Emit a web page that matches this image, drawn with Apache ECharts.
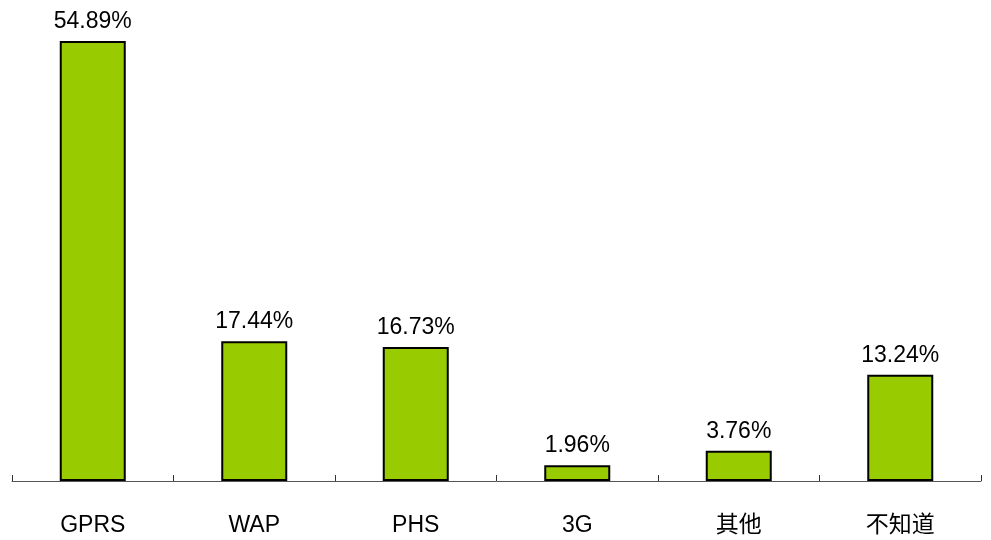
<!DOCTYPE html>
<html>
<head>
<meta charset="utf-8">
<script src="https://cdn.jsdelivr.net/npm/echarts@6/dist/echarts.min.js"></script>
<style>
  html, body { margin: 0; padding: 0; background: #fff; }
  #chart { width: 991px; height: 540px; }
</style>
</head>
<body>
<div id="chart"></div>
<script>
// Access methods and their shares (%)
const categories = ['GPRS', 'WAP', 'PHS', '3G', '其他', '不知道'];
const shares = [54.89, 17.44, 16.73, 1.96, 3.76, 13.24];

const fontFamily = '"Liberation Sans", Arial, "Noto Sans CJK SC", sans-serif';

const chart = echarts.init(document.getElementById('chart'));
chart.setOption({
  animation: false,
  backgroundColor: '#ffffff',
  grid: { left: 12, right: 10, top: 41, bottom: 59, containLabel: false },
  xAxis: {
    type: 'category',
    data: categories,
    boundaryGap: true,
    axisLine: { show: true, lineStyle: { color: '#555555', width: 1 } },
    axisTick: { show: true, inside: true, length: 6, alignWithLabel: false, lineStyle: { color: '#333333' } },
    axisLabel: { color: '#000000', fontSize: 23, fontFamily: fontFamily, margin: 33 }
  },
  yAxis: {
    type: 'value',
    min: 0,
    max: 'dataMax',
    show: false,
    splitLine: { show: false }
  },
  series: [{
    type: 'bar',
    data: shares,
    barWidth: 66,
    itemStyle: { color: '#99cc00', borderColor: '#000000', borderWidth: 2 },
    label: {
      show: true,
      position: 'top',
      distance: 8,
      color: '#000000',
      fontSize: 23,
      fontFamily: fontFamily,
      formatter: p => p.value.toFixed(2) + '%'
    }
  }]
});
</script>
</body>
</html>
